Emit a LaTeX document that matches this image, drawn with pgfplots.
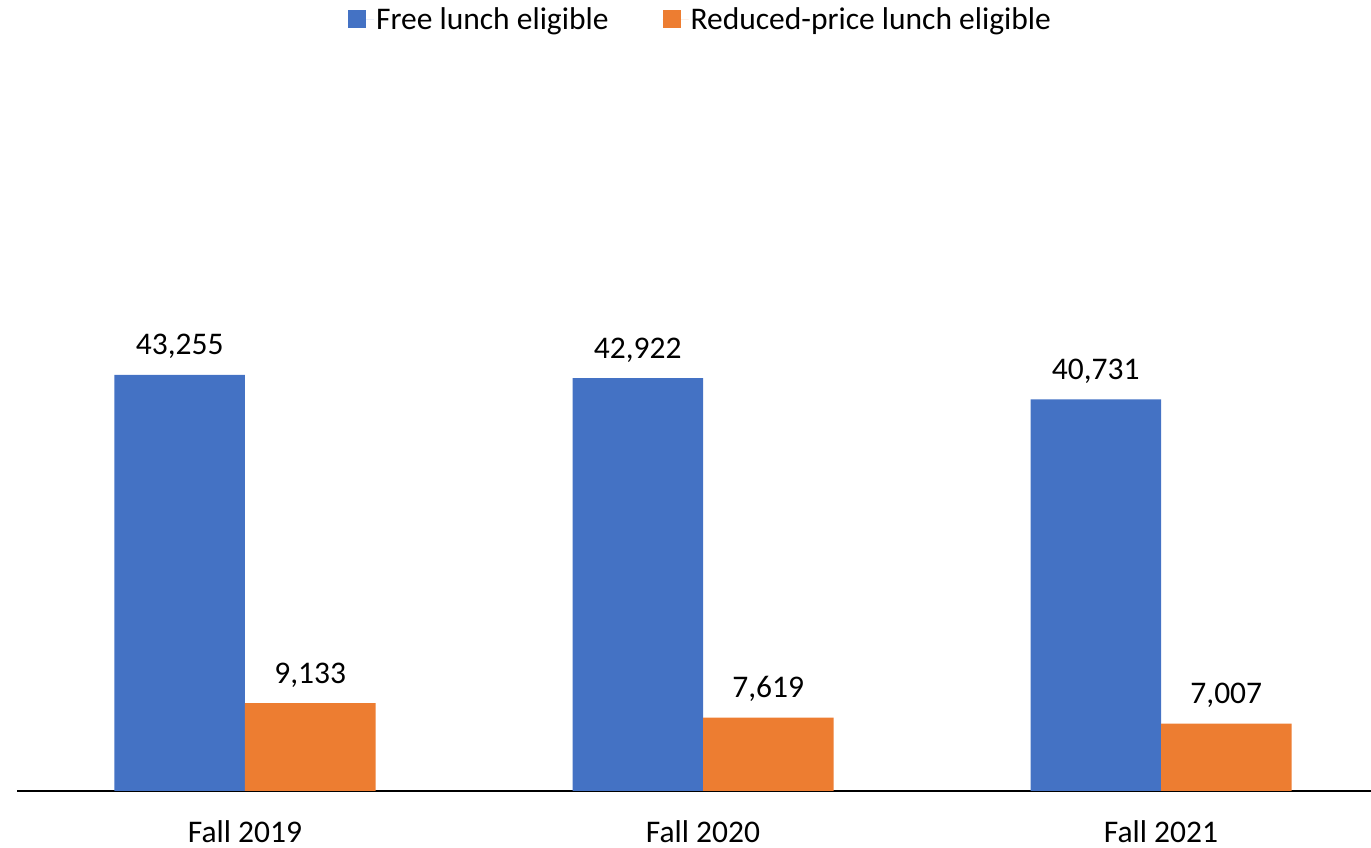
\documentclass[border=0pt]{standalone}
\usepackage{fontspec}
\setmainfont{Carlito}
\usepackage{pgfplots}
\pgfplotsset{compat=1.18}
\definecolor{cblue}{HTML}{4472C4}
\definecolor{corange}{HTML}{ED7D31}
\begin{document}
\begin{tikzpicture}
\path[use as bounding box] (0,0) rectangle (1371pt,848pt);
\begin{axis}[
  at={(17pt,57pt)}, anchor=south west,
  scale only axis,
  width=1354pt, height=721pt,
  ymin=0, ymax=74968,
  xmin=-0.4978, xmax=2.4585,
  ybar=0pt, bar width=130.5pt,
  axis x line*=bottom, axis y line=none,
  axis line style={line width=1.6pt, -},
  xtick={0,1,2}, xticklabels={Fall 2019,Fall 2020,Fall 2021},
  major tick length=0pt,
  xticklabel style={font=\fontsize{31.5}{37}\selectfont, yshift=-26pt},
  nodes near coords,
  /pgf/number format/fixed, /pgf/number format/precision=0,
  /pgf/number format/1000 sep={,}, /pgf/number format/assume math mode=true,
  nodes near coords style={font=\fontsize{31.5}{37}\selectfont, yshift=12.5pt},
  legend columns=2,
  legend style={at={(rel axis cs:0.5048,1.0707)}, anchor=center, draw=none, fill=none,
     font=\fontsize{31.5}{37}\selectfont,
     /tikz/every even column/.append style={column sep=52pt}},
  legend image code/.code={\fill[#1] (0pt,-9pt) rectangle (18pt,9pt); \path (0pt,0pt) -- (26pt,0pt);},
]
\addplot[fill=cblue, draw=none] coordinates {(0,43255) (1,42922) (2,40731)};
\addplot[fill=corange, draw=none] coordinates {(0,9133) (1,7619) (2,7007)};
\legend{Free lunch eligible, Reduced-price lunch eligible}
\end{axis}
\end{tikzpicture}
\end{document}
